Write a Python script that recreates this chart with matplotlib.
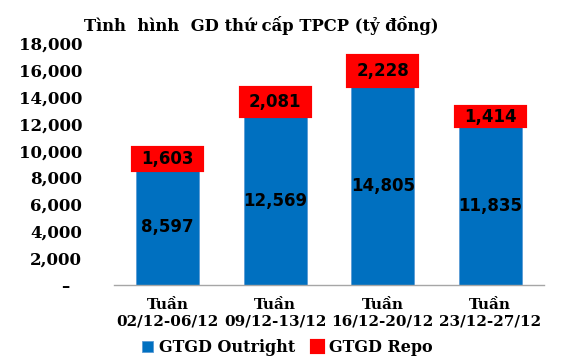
import matplotlib
matplotlib.use("Agg")
import matplotlib.pyplot as plt
from matplotlib.ticker import FuncFormatter, MultipleLocator
import numpy as np

weeks = ["Tuần\n02/12-06/12", "Tuần\n09/12-13/12", "Tuần\n16/12-20/12", "Tuần\n23/12-27/12"]
outright = [8597, 12569, 14805, 11835]
repo = [1603, 2081, 2228, 1414]

blue = "#0070C0"
red = "#FF0000"
serif = "DejaVu Serif"

fig = plt.figure(figsize=(5.69, 3.62), dpi=100)
ax = fig.add_axes([0.2004, 0.2127, 0.7556, 0.668])

x = np.arange(len(weeks))
ax.bar(x, outright, width=0.585, color=blue, edgecolor="#5B9BD5", linewidth=0.6,
       label="GTGD Outright")
ax.bar(x, repo, bottom=outright, width=0.64, color=red, edgecolor=red, linewidth=3,
       label="GTGD Repo")

for xi, o, r in zip(x, outright, repo):
    ax.text(xi, o / 2, f"{o:,}", ha="center", va="center", fontsize=12,
            fontweight="bold", family="DejaVu Sans", color="black")
    ax.text(xi, o + r / 2, f"{r:,}", ha="center", va="center", fontsize=12,
            fontweight="bold", family="DejaVu Sans", color="black")

ax.set_xlim(-0.5, 3.5)
ax.set_ylim(0, 18000)
ax.yaxis.set_major_locator(MultipleLocator(2000))
ax.yaxis.set_major_formatter(FuncFormatter(lambda v, p: "–  " if v == 0 else f"{int(v):,}"))
ax.set_xticks(x)
ax.set_xticklabels(weeks, family=serif, fontweight="bold", fontsize=11, linespacing=1.25)
for lab in ax.get_yticklabels():
    lab.set_family(serif)
    lab.set_fontweight("bold")
    lab.set_fontsize(12)
ax.tick_params(axis="y", length=0, pad=23)
ax.tick_params(axis="x", length=0, pad=9)

for s in ["left", "right", "top"]:
    ax.spines[s].set_visible(False)
ax.spines["bottom"].set_color("#A6A6A6")
ax.spines["bottom"].set_linewidth(1)

fig.text(0.459, 0.93, "Tình  hình  GD thứ cấp TPCP (tỷ đồng)", ha="center", va="center",
         family=serif, fontweight="bold", fontsize=11.8)

fig.legend(loc="center", bbox_to_anchor=(0.505, 0.04), ncol=2, frameon=False,
           prop={"family": serif, "weight": "bold", "size": 11.5},
           handlelength=0.7, handleheight=0.7, handletextpad=0.4, columnspacing=1.0)

fig.savefig("out.png", dpi=100)
